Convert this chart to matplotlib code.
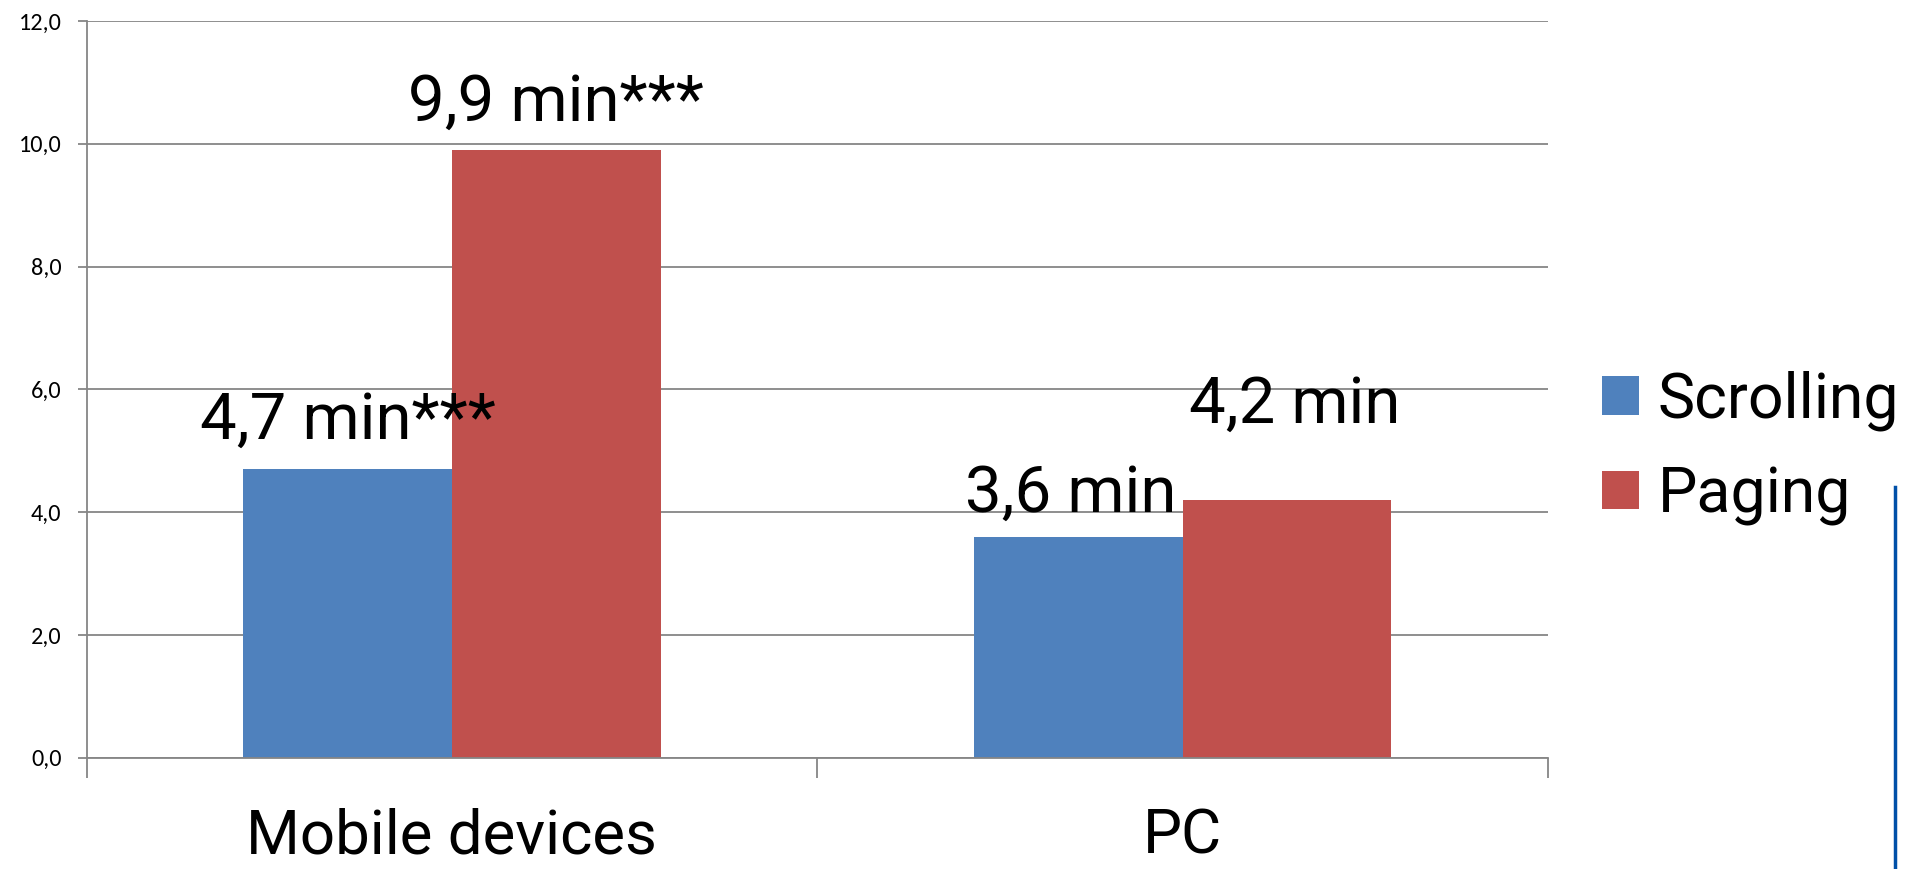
import matplotlib
matplotlib.use("Agg")
import matplotlib.pyplot as plt
from matplotlib import font_manager
from matplotlib.lines import Line2D
import numpy as np

# Reading time per layout (minutes)
categories = ["Mobile devices", "PC"]
series_names = ["Scrolling", "Paging"]
scrolling = [4.7, 3.6]
paging = [9.9, 4.2]
value_labels = [["4,7 min***", "3,6 min"], ["9,9 min***", "4,2 min"]]
y_ticks = [0, 2, 4, 6, 8, 10, 12]

colors = ["#4F81BD", "#C0504D"]
grid_gray = "#868686"

installed = {f.name for f in font_manager.fontManager.ttflist}


def pick(cands, default="DejaVu Sans"):
    for c in cands:
        if c in installed:
            return c
    return default


big_font = pick(["Roboto", "Liberation Sans"])
small_font = pick(["Carlito", "Open Sans", "Noto Sans", "Lato"])

fig = plt.figure(figsize=(19.1, 8.69), dpi=100)
ax = fig.add_axes([0.0453, 0.1281, 0.7652, 0.8477])

x = np.arange(len(categories))
bw = 1 / 3.5  # Excel-style gap width of 150%
series = [scrolling, paging]
bars = []
for i, (vals, name) in enumerate(zip(series, series_names)):
    b = ax.bar(x + (i - 0.5) * bw, vals, width=bw, color=colors[i], label=name,
               zorder=2, linewidth=0)
    bars.append(b)

# value labels (offsets above bar tops, in data units)
label_dx = [[0.0, -0.01], [0.0, 0.011]]
label_dy = [[0.5, 0.4], [0.48, 1.26]]
for i, vals in enumerate(series):
    for j, v in enumerate(vals):
        ax.text(x[j] + (i - 0.5) * bw + label_dx[i][j], v + label_dy[i][j],
                value_labels[i][j], ha="center", va="baseline",
                fontsize=47, family=big_font, color="black", zorder=3)

ax.set_xlim(-0.5, 1.5)
ax.set_ylim(0, 12)
ax.set_yticks(y_ticks)
ax.set_yticklabels([f"{v:.1f}".replace(".", ",") for v in y_ticks],
                   family=small_font, fontsize=17.5)
ax.yaxis.grid(True, color=grid_gray, linewidth=1.3)
ax.set_axisbelow(True)

ax.set_xticks([-0.5, 0.5, 1.5])
ax.set_xticklabels([])
ax.set_xticks(x, minor=True)
ax.set_xticklabels(categories, minor=True, family=big_font, fontsize=44.5)
ax.tick_params(axis="x", which="major", length=14.5, width=1.3, color=grid_gray)
ax.tick_params(axis="x", which="minor", length=0, pad=36)
ax.tick_params(axis="y", length=6.5, width=1.3, color=grid_gray, pad=11.5)

for s in ["top", "right"]:
    ax.spines[s].set_visible(False)
for s in ["left", "bottom"]:
    ax.spines[s].set_color(grid_gray)
    ax.spines[s].set_linewidth(1.3)

fig.legend(handles=bars, labels=series_names, loc="upper left",
           bbox_to_anchor=(0.839, 0.574), frameon=False,
           prop={"family": big_font, "size": 45},
           handlelength=0.58, handleheight=0.58, handletextpad=0.3,
           labelspacing=0.55, borderaxespad=0, borderpad=0)

# vertical accent rule at the right edge
fig.add_artist(Line2D([0.9921, 0.9921], [0.0, 0.4396], transform=fig.transFigure,
                      color="#0050A8", linewidth=2.5))

fig.savefig("out.png", dpi=100)
